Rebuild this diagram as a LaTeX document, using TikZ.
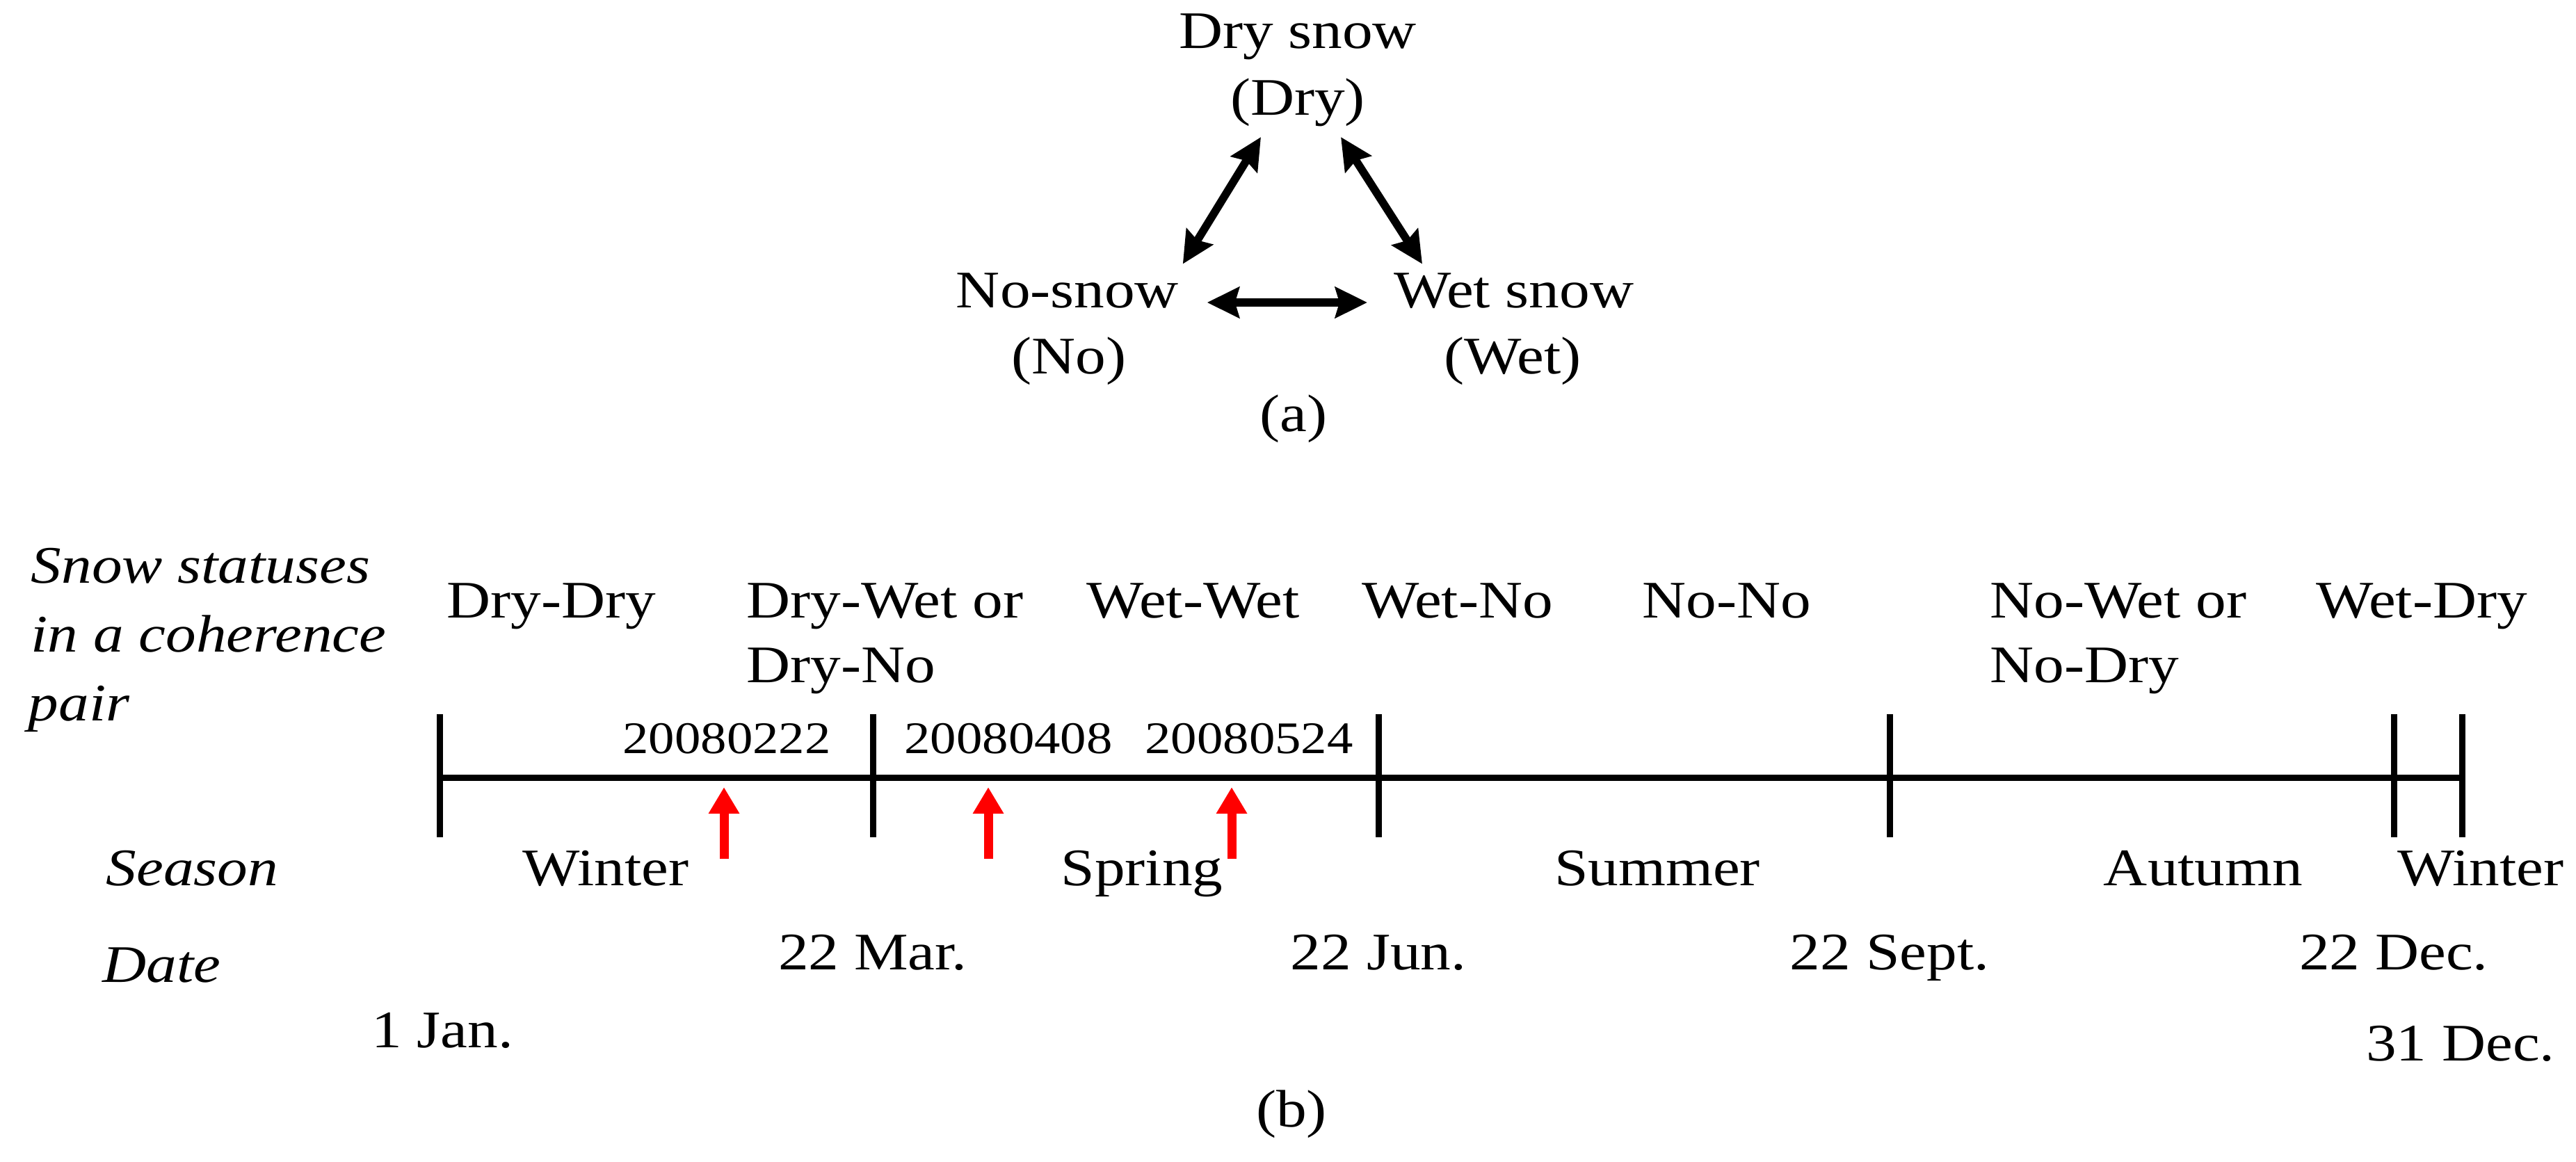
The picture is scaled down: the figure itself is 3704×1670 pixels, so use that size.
\documentclass[tikz,border=0pt]{standalone}
\usepackage{fontspec}
\setmainfont{Liberation Serif}[FakeStretch=1.15]
\usetikzlibrary{arrows.meta}
\tikzset{
	lbl/.style={inner sep=0pt, font=\fontsize{21.6}{24}\selectfont},
	lblit/.style={inner sep=0pt, font=\fontsize{21.6}{24}\selectfont\itshape},
	datelbl/.style={inner sep=0pt, font=\fontsize{18.5}{20}\selectfont},
	dblarrow/.style={line width=1.15mm, {Stealth[length=4.6mm,width=4.4mm,inset=0.6mm]}-{Stealth[length=4.6mm,width=4.4mm,inset=0.6mm]}},
	redarrow/.style={red, line width=1.3mm, -{Triangle[length=3.8mm,width=4.2mm]}},
	axis/.style={line width=0.9mm}
}
\begin{document}
\begin{tikzpicture}[x=0.1mm, y=-0.1mm]
	\useasboundingbox (0,0) rectangle (3704,1670);
	
	% (a) snow states
	\node[lbl, anchor=base] (drysnow) at (1866,70) {Dry snow};
	\node[lbl, anchor=base] (dry) at (1866,165) {(Dry)};
	\node[lbl, anchor=base] (nosnow) at (1535,442) {No-snow};
	\node[lbl, anchor=base] (no) at (1537,537) {(No)};
	\node[lbl, anchor=base] (wetsnow) at (2177,442) {Wet snow};
	\node[lbl, anchor=base] (wet) at (2175,537) {(Wet)};
	\node[lbl, anchor=base] (capa) at (1860,620) {(a)};
	
	\draw[dblarrow] ([xshift=-5.3mm,yshift=-1.5mm]dry.south) -- ([xshift=0.5mm,yshift=1.2mm]nosnow.north east);
	\draw[dblarrow] ([xshift=6.2mm,yshift=-1.5mm]dry.south) -- ([xshift=4.1mm,yshift=1.2mm]wetsnow.north west);
	\draw[dblarrow] ([xshift=4mm,yshift=0.7mm]nosnow.base east) -- ([xshift=-3.8mm,yshift=0.7mm]wetsnow.base west);
	
	% (b) row labels
	\node[lblit, anchor=base west] (rowa) at (44,838) {Snow statuses};
	\node[lblit, anchor=base west] (rowb) at (44,937) {in a coherence};
	\node[lblit, anchor=base west] (rowc) at (40,1036) {pair};
	\node[lblit, anchor=base west] (season) at (152,1273) {Season};
	\node[lblit, anchor=base west] (date) at (147,1412) {Date};
	
	% snow statuses
	\foreach \x/\y/\t/\n in {642/888/Dry-Dry/s1, 1073/888/Dry-Wet or/s2, 1073/981/Dry-No/s3, 1562/888/Wet-Wet/s4, 1958/888/Wet-No/s5, 2361/888/No-No/s6, 2861/888/No-Wet or/s7, 2861/981/No-Dry/s8, 3330/888/Wet-Dry/s9}
	{
		\node[lbl, anchor=base west] (\n) at (\x,\y) {\t};
	}
	
	% time line
	\draw[axis] (632,1118) -- (3540,1118);
	\foreach \x in {632, 1255, 1982, 2717, 3442, 3540}
	{
		\draw[axis] (\x,1027) -- (\x,1204);
	}
	
	% acquisition dates
	\foreach \x/\a/\t/\n in {1045/1041/20080222/p1, 1450/1421/20080408/p2, 1796/1771/20080524/p3}
	{
		\node[datelbl, anchor=base] (\n) at (\x,1083) {\t};
		\draw[redarrow] (\a,1235) -- (\a,1132);
	}
	
	% seasons
	\foreach \x/\t/\n in {871/Winter/w1, 1642/Spring/sp, 2383/Summer/su, 3168/Autumn/au}
	{
		\node[lbl, anchor=base] (\n) at (\x,1273) {\t};
	}
	\node[lbl, anchor=base west] (w2) at (3447,1273) {Winter};
	
	% dates
	\foreach \x/\y/\t/\n in {1255/1394/22 Mar./d1, 1982/1394/22 Jun./d2, 2717/1394/22 Sept./d3, 3442/1394/22 Dec./d4, 636/1506/1 Jan./d0, 3538/1525/31 Dec./d5}
	{
		\node[lbl, anchor=base] (\n) at (\x,\y) {\t};
	}
	\node[lbl, anchor=base] (capb) at (1857,1620) {(b)};
\end{tikzpicture}
\end{document}
